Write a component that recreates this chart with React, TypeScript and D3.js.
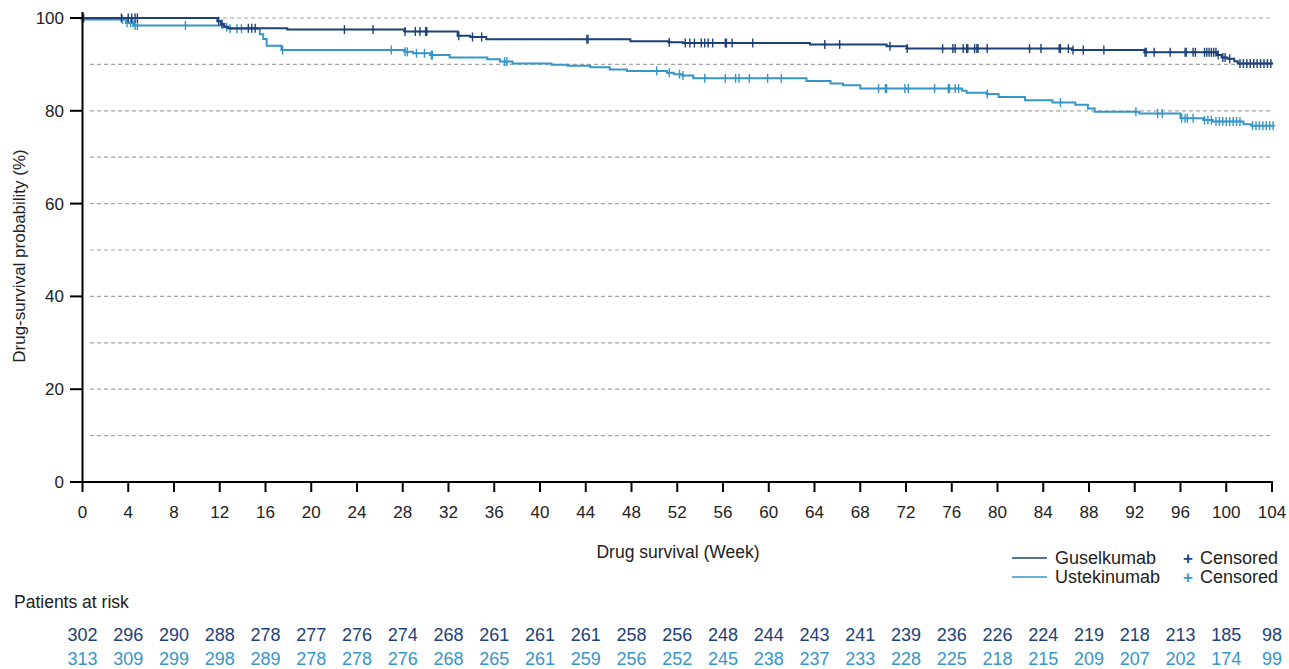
import React from "react";
import * as d3 from "d3";

// ---------- DATA ----------
const xTicks = d3.range(0, 105, 4);
const yTicks = [0, 20, 40, 60, 80, 100];
const gridValues = [10, 20, 30, 40, 50, 60, 70, 80, 90, 100];

// Guselkumab KM steps [week, survival %]
const gusTimes = [0, 11.8, 12.1, 12.4, 12.7, 17.9, 28.2, 32.8, 33.9, 35.3, 47.9, 51.3, 52.5, 63.6, 70.3, 72.1, 86.5, 92.9, 99.2, 99.6, 100.1, 100.7, 101.0];
const gusSurv = [100, 99.3, 98.7, 98.1, 97.8, 97.5, 97.1, 96.2, 95.9, 95.4, 95.0, 94.8, 94.6, 94.3, 93.9, 93.4, 93.1, 92.6, 92.0, 91.5, 91.2, 90.7, 90.2];
const gusEnd = 104.1;
const gusCensored = [0.1, 3.4, 4.0, 4.3, 4.6, 4.8, 11.9, 12.2, 14.5, 14.8, 15.1, 22.9, 25.4, 28.2, 29.1, 29.5, 30.0, 30.1, 32.9, 34.1, 34.9, 44.1, 44.2, 51.3, 52.7, 53.1, 53.5, 54.1, 54.4, 54.7, 55.1, 56.2, 56.3, 56.8, 58.6, 64.9, 66.2, 70.6, 72.1, 75.2, 76.1, 76.3, 77.0, 77.3, 77.4, 78.0, 78.2, 78.3, 79.1, 82.8, 83.8, 85.4, 85.5, 86.2, 86.6, 87.5, 89.3, 92.9, 93.0, 93.7, 95.1, 96.4, 96.5, 97.1, 97.3, 98.1, 98.3, 98.5, 98.7, 98.9, 99.1, 99.3, 99.7, 99.9, 100.3, 101.2, 101.5, 101.8, 102.1, 102.4, 102.7, 103.0, 103.3, 103.6, 103.9];

// Ustekinumab KM steps [week, survival %]
const ustTimes = [0, 3.8, 4.5, 12.3, 12.9, 15.5, 15.8, 16.1, 17.4, 28.2, 28.9, 30.4, 32.1, 35.4, 36.5, 37.6, 41.0, 42.4, 44.4, 46.1, 47.6, 51.1, 51.7, 52.4, 53.4, 63.3, 65.4, 66.5, 68.0, 76.9, 77.3, 79.1, 80.1, 82.4, 84.8, 86.8, 87.9, 88.5, 92.4, 96.0, 98.0, 98.8, 101.5, 102.2];
const ustSurv = [99.7, 99.0, 98.4, 98.0, 97.7, 96.5, 95.5, 94.0, 93.1, 92.7, 92.4, 92.0, 91.5, 91.1, 90.6, 90.2, 89.9, 89.7, 89.4, 88.9, 88.6, 88.2, 87.9, 87.6, 87.0, 86.4, 85.9, 85.5, 84.8, 84.3, 83.9, 83.6, 83.0, 82.3, 81.8, 81.3, 80.5, 79.8, 79.4, 78.4, 78.0, 77.7, 77.1, 76.8];
const ustEnd = 104.1;
const ustCensored = [0.0, 3.5, 3.9, 4.2, 4.4, 4.6, 4.8, 9.0, 12.6, 12.9, 13.5, 13.9, 17.5, 27.0, 28.2, 28.4, 29.2, 29.9, 30.5, 30.6, 36.9, 37.1, 50.2, 51.3, 52.2, 52.5, 54.4, 56.2, 57.1, 57.4, 58.3, 59.9, 61.1, 69.6, 70.2, 70.3, 71.9, 72.2, 74.5, 75.7, 75.8, 76.3, 76.6, 79.1, 85.5, 92.1, 94.0, 94.4, 96.1, 96.4, 96.6, 97.1, 98.1, 98.4, 98.7, 99.1, 99.4, 99.7, 100.0, 100.3, 100.6, 100.9, 101.2, 102.3, 102.6, 102.9, 103.2, 103.5, 103.8, 104.1];

const gusAtRisk = [302, 296, 290, 288, 278, 277, 276, 274, 268, 261, 261, 261, 258, 256, 248, 244, 243, 241, 239, 236, 226, 224, 219, 218, 213, 185, 98];
const ustAtRisk = [313, 309, 299, 298, 289, 278, 278, 276, 268, 265, 261, 259, 256, 252, 245, 238, 237, 233, 228, 225, 218, 215, 209, 207, 202, 174, 99];

const seriesNames = ["Guselkumab", "Ustekinumab"];
const DARK = "#1d4178";
const LIGHT = "#3696c8";

// ---------- HELPERS ----------
function survAt(times: number[], surv: number[], t: number) {
  let v = surv[0];
  for (let i = 0; i < times.length; i++) {
    if (times[i] <= t) v = surv[i];
  }
  return v;
}

export default function App() {
  const W = 1289, H = 669;
  const x = d3.scaleLinear().domain([0, 104]).range([82.5, 1272]);
  const y = d3.scaleLinear().domain([0, 100]).range([482, 18]);
  const font = "'Liberation Sans', Arial, sans-serif";

  const stepLine = d3
    .line<[number, number]>()
    .x((d) => x(d[0]))
    .y((d) => y(d[1]))
    .curve(d3.curveStepAfter);

  const mkPts = (times: number[], surv: number[], end: number): [number, number][] => {
    const pts: [number, number][] = times.map((t, i) => [t, surv[i]]);
    pts.push([end, surv[surv.length - 1]]);
    return pts;
  };

  const series = [
    { pts: mkPts(gusTimes, gusSurv, gusEnd), cens: gusCensored, times: gusTimes, surv: gusSurv, color: DARK },
    { pts: mkPts(ustTimes, ustSurv, ustEnd), cens: ustCensored, times: ustTimes, surv: ustSurv, color: LIGHT },
  ];

  return (
    <svg width={W} height={H} style={{ position: "absolute", left: 0, top: 0, background: "#fff" }} fontFamily={font}>
      {/* grid */}
      {gridValues.map((g) => (
        <line key={g} x1={90} x2={1272} y1={y(g)} y2={y(g)} stroke="#a6a6a6" strokeWidth={1.2} strokeDasharray="4,3" />
      ))}
      {/* curves: light first then dark on top */}
      {[series[1], series[0]].map((s, i) => (
        <g key={i}>
          <path d={stepLine(s.pts) || ""} fill="none" stroke={s.color} strokeWidth={2} />
          {s.cens.map((c, j) => {
            const cx = x(c), cy = y(survAt(s.times, s.surv, c));
            return (
              <g key={j} stroke={s.color} strokeWidth={1.4}>
                <line x1={cx} x2={cx} y1={cy - 4.5} y2={cy + 4.5} />
                <line x1={cx - 2} x2={cx + 2} y1={cy} y2={cy} />
              </g>
            );
          })}
        </g>
      ))}
      {/* axes */}
      <line x1={x(0)} x2={x(0)} y1={12} y2={y(0)} stroke="#000" strokeWidth={2} />
      <line x1={70} x2={1273} y1={y(0)} y2={y(0)} stroke="#000" strokeWidth={2} />
      {yTicks.map((t) => (
        <g key={t}>
          <line x1={70} x2={x(0)} y1={y(t)} y2={y(t)} stroke="#000" strokeWidth={2} />
          <text x={64} y={y(t)} dy="0.35em" textAnchor="end" fontSize={17} fill="#222">{t}</text>
        </g>
      ))}
      {xTicks.map((t) => (
        <g key={t}>
          <line x1={x(t)} x2={x(t)} y1={y(0)} y2={y(0) + 10} stroke="#000" strokeWidth={2} />
          <text x={x(t)} y={518} textAnchor="middle" fontSize={17} fill="#222">{t}</text>
        </g>
      ))}
      {/* axis titles */}
      <text x={678} y={558} textAnchor="middle" fontSize={17.5} fill="#222">Drug survival (Week)</text>
      <text transform={`translate(25,256) rotate(-90)`} textAnchor="middle" fontSize={17} fill="#222">Drug-survival probability (%)</text>
      {/* legend */}
      {seriesNames.map((n, i) => {
        const c = i === 0 ? DARK : LIGHT;
        const ly = 558 + i * 19;
        return (
          <g key={n}>
            <line x1={1012} x2={1047} y1={ly} y2={ly} stroke={c} strokeWidth={1.5} />
            <text x={1055} y={ly} dy="0.35em" fontSize={18} fill="#222">{n}</text>
            <text x={1188} y={ly} dy="0.33em" textAnchor="middle" fontSize={17} fontWeight="bold" fill={c}>+</text>
            <text x={1200} y={ly} dy="0.35em" fontSize={18} fill="#222">Censored</text>
          </g>
        );
      })}
      {/* at risk */}
      <text x={14} y={608} fontSize={17.5} fill="#222">Patients at risk</text>
      {gusAtRisk.map((v, i) => (
        <text key={"g" + i} x={x(xTicks[i])} y={640.5} textAnchor="middle" fontSize={18} fill={DARK}>{v}</text>
      ))}
      {ustAtRisk.map((v, i) => (
        <text key={"u" + i} x={x(xTicks[i])} y={664.5} textAnchor="middle" fontSize={18} fill={LIGHT}>{v}</text>
      ))}
    </svg>
  );
}
